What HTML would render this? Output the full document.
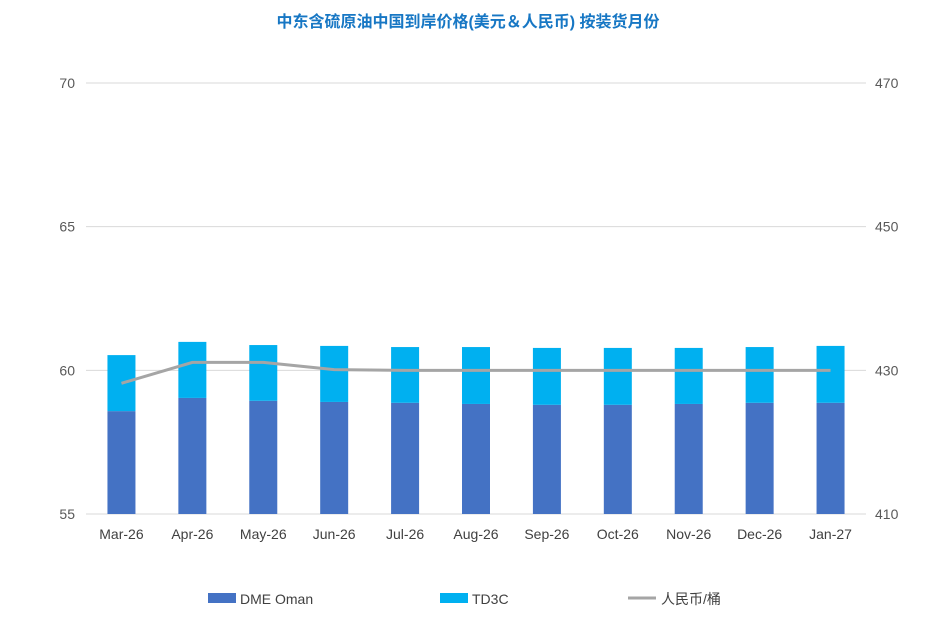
<!DOCTYPE html>
<html><head><meta charset="utf-8"><style>
body{margin:0;background:#fff;}
svg text{font-family:"Liberation Sans","Noto Sans CJK SC",sans-serif;}
</style></head><body>
<svg id="chart" width="937" height="634">
<text x="468" y="27" text-anchor="middle" font-size="16" font-weight="bold" fill="#1777c4">中东含硫原油中国到岸价格(美元＆人民币) 按装货月份</text>
<g id="grid"></g><g id="bars"></g><g id="line"></g><g id="axes"></g>
<g>
<rect x="208" y="593" width="28" height="10" fill="#4472c4"/>
<text x="240" y="604" font-size="14" fill="#404040">DME Oman</text>
<rect x="440" y="593" width="28" height="10" fill="#00b0f0"/>
<text x="472" y="604" font-size="14" fill="#404040">TD3C</text>
<line x1="628" y1="598" x2="656" y2="598" stroke="#a5a5a5" stroke-width="3"/>
<text x="661" y="604" font-size="14" fill="#404040">人民币/桶</text>
</g>
</svg>
<script>
const categories=["Mar-26","Apr-26","May-26","Jun-26","Jul-26","Aug-26","Sep-26","Oct-26","Nov-26","Dec-26","Jan-27"];
const dmeValues=[58.58,59.04,58.94,58.9,58.87,58.83,58.8,58.8,58.83,58.87,58.87];
const td3cValues=[1.95,1.95,1.94,1.95,1.94,1.98,1.98,1.98,1.95,1.94,1.98];
const rmbValues=[428.2,431.1,431.1,430.1,430,430,430,430,430,430,430];
const leftTicks=[55,60,65,70];
const rightTicks=[410,430,450,470];
const NS="http://www.w3.org/2000/svg";
const L=86,R=866,T=83,B=514;
const yL=v=>B-(v-55)/15*(B-T);
const yR=v=>B-(v-410)/60*(B-T);
const step=(R-L)/categories.length;
const xC=i=>L+step*(i+0.5);
function mk(tag,attrs,parent){const e=document.createElementNS(NS,tag);for(const k in attrs)e.setAttribute(k,attrs[k]);document.getElementById(parent).appendChild(e);return e;}
leftTicks.forEach((t,i)=>{
 const g=mk('line',{x1:L,x2:R,y1:yL(t),y2:yL(t),stroke:'#d9d9d9','stroke-width':1},'grid');
 
 
 const a=mk('text',{x:75,y:yL(t)+5,'text-anchor':'end','font-size':14,fill:'#595959'},'axes');a.textContent=t;
 
 
});
rightTicks.forEach(t=>{
 const a=mk('text',{x:875,y:yR(t)+5,'font-size':14,fill:'#595959'},'axes');a.textContent=t;
 
 
});
const bw=28;
categories.forEach((c,i)=>{
 const x=xC(i)-bw/2;
 const b1=mk('rect',{x:x,y:yL(dmeValues[i]),width:bw,height:B-yL(dmeValues[i]),fill:'#4472c4'},'bars');
 
 
 const top=dmeValues[i]+td3cValues[i];
 const b2=mk('rect',{x:x,y:yL(top),width:bw,height:yL(dmeValues[i])-yL(top),fill:'#00b0f0'},'bars');
 
 
 const t=mk('text',{x:xC(i),y:539,'text-anchor':'middle','font-size':14,fill:'#404040'},'axes');t.textContent=c;
 
 
});
const p=mk('polyline',{points:rmbValues.map((v,i)=>xC(i)+','+yR(v)).join(' '),fill:'none',stroke:'#a5a5a5','stroke-width':3},'line');


</script>
</body></html>
